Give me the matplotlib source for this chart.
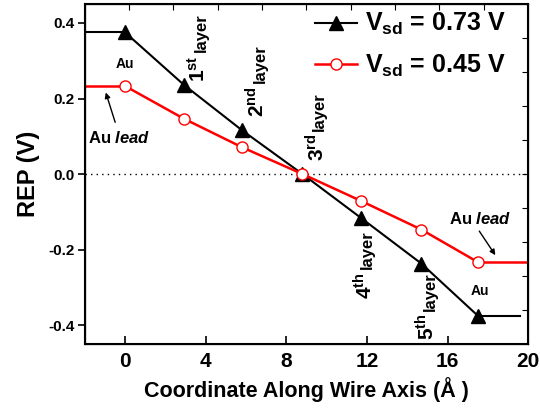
"""
REP along the wire axis, two bias voltages
"""
import matplotlib
matplotlib.use("Agg")
import matplotlib.pyplot as plt

plt.rcParams['font.family'] = ['Liberation Sans', 'DejaVu Sans']
plt.rcParams['font.weight'] = 'bold'
plt.rcParams['mathtext.fontset'] = 'custom'
plt.rcParams['mathtext.rm'] = 'Liberation Sans:bold'
plt.rcParams['mathtext.bf'] = 'Liberation Sans:bold'
plt.rcParams['mathtext.it'] = 'Liberation Sans:italic:bold'

# atom positions along the wire (Angstrom)
x_atoms = [0, 2.9, 5.8, 8.8, 11.7, 14.7, 17.5]
rep_073 = [0.375, 0.237, 0.116, 0.0, -0.116, -0.237, -0.375]
rep_045 = [0.233, 0.147, 0.071, 0.0, -0.071, -0.147, -0.233]

# flat lead parts
lead_left_x = [-2, 0]
lead_right_x_073 = [17.5, 19.6]
lead_right_x_045 = [17.5, 20]

layer_labels = ["1", "2", "3", "4", "5"]
layer_sup = ["st", "nd", "rd", "th", "th"]

fig = plt.figure(figsize=(5.4, 4.09), dpi=100)
ax = fig.add_axes([0.157, 0.159, 0.821, 0.831])

ax.axhline(0, color='black', ls=(0, (1, 3)), lw=1)

ax.plot(lead_left_x, [rep_073[0]] * 2, color='black', lw=1.5)
ax.plot(lead_right_x_073, [rep_073[-1]] * 2, color='black', lw=1.5)
ax.plot(lead_left_x, [rep_045[0]] * 2, color='red', lw=1.8)
ax.plot(lead_right_x_045, [rep_045[-1]] * 2, color='red', lw=1.8)

ax.plot(x_atoms, rep_073, color='black', lw=1.5, marker='^', ms=10,
        mfc='black', mec='black', label=r'V$_{\mathrm{sd}}$ = 0.73 V')
ax.plot(x_atoms, rep_045, color='red', lw=1.8, marker='o', ms=8,
        mfc='white', mec='red', label=r'V$_{\mathrm{sd}}$ = 0.45 V')

# layer labels (x centre, bottom y), "layer" stacked after the ordinal
label_pos = [(3.63, 0.245), (6.56, 0.152), (9.5, 0.035), (11.9, -0.33), (15.0, -0.44)]
for (lx, ly), num, sup in zip(label_pos, layer_labels, layer_sup):
    t1 = ax.text(lx, ly, r"$\mathbf{" + num + "^{" + sup + "}}$",
                 rotation=90, ha='center', va='bottom', fontsize=15)
    ax.annotate("layer", xy=(0.5, 1), xycoords=t1, xytext=(2, 2),
                textcoords='offset points', rotation=90, ha='center',
                va='bottom', fontsize=12)

ax.text(0.0, 0.292, "Au", ha='center', va='center', fontsize=10)
ax.text(17.6, -0.31, "Au", ha='center', va='center', fontsize=10)
ax.text(-0.3, 0.096, r"Au $\mathit{lead}$", ha='center', va='center', fontsize=12)
ax.text(17.6, -0.12, r"Au $\mathit{lead}$", ha='center', va='center', fontsize=12)
ax.annotate("", xy=(-1.0, 0.223), xytext=(-0.45, 0.13),
            arrowprops=dict(arrowstyle='-|>', color='black', lw=1,
                            mutation_scale=8))
ax.annotate("", xy=(18.45, -0.221), xytext=(17.5, -0.145),
            arrowprops=dict(arrowstyle='-|>', color='black', lw=1,
                            mutation_scale=8))

ax.set_xlim(-2, 20)
ax.set_ylim(-0.45, 0.45)
ax.set_xticks([0, 4, 8, 12, 16, 20])
ax.set_yticks([-0.4, -0.2, 0.0, 0.2, 0.4])
ax.set_yticklabels(["-0.4", "-0.2", "0.0", "0.2", "0.4"])
ax.tick_params(axis='x', direction='in', labelsize=15, width=1.2, length=6, pad=6)
ax.tick_params(axis='y', direction='out', labelsize=11, width=1.2, length=5, pad=2)
for s in ax.spines.values():
    s.set_linewidth(1.5)

ax.set_xlabel("Coordinate Along Wire Axis (Å )", fontsize=15.5, fontweight='bold')
ax.set_ylabel("REP (V)", fontsize=17, fontweight='bold', labelpad=6)

# plain ticks on top and right
top = ax.twiny()
top.set_xlim(0, 10)
top.set_xticks(range(1, 10))
top.tick_params(axis='x', direction='in', labeltop=False, length=4)
right = ax.twinx()
right.set_ylim(0, 10)
right.set_yticks(range(1, 10))
right.tick_params(axis='y', direction='in', labelright=False, length=4)

leg = ax.legend(loc='upper right', frameon=False, fontsize=18, handlelength=1.7,
                handletextpad=0.3, labelspacing=0.6, borderaxespad=0.5,
                bbox_to_anchor=(1.0, 1.045))

fig.savefig("out.png", dpi=100)
